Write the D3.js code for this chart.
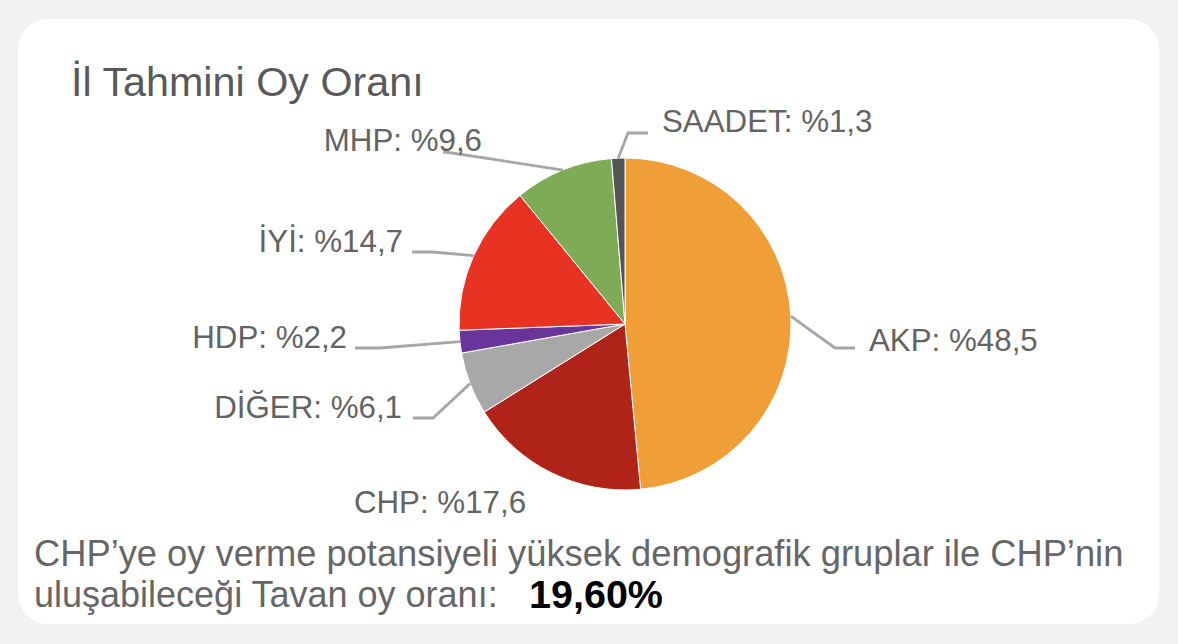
<!DOCTYPE html>
<html>
<head>
<meta charset="utf-8">
<script src="https://cdn.jsdelivr.net/npm/d3@7"></script>
<style>
html,body{margin:0;padding:0;background:#f2f2f2;}
svg{display:block;}
text{font-family:"Liberation Sans",Arial,sans-serif;}
</style>
</head>
<body>
<svg id="chart" width="1178" height="644"></svg>
<script>
// ---- data ----
const parties = ["AKP", "CHP", "DİĞER", "HDP", "İYİ", "MHP", "SAADET"];
const shares  = [48.5, 17.6, 6.1, 2.2, 14.7, 9.6, 1.3];
const labelTexts = ["AKP: %48,5", "CHP: %17,6", "DİĞER: %6,1", "HDP: %2,2", "İYİ: %14,7", "MHP: %9,6", "SAADET: %1,3"];
const titleText = "İl Tahmini Oy Oranı";
const noteLine1 = "CHP’ye oy verme potansiyeli yüksek demografik gruplar ile CHP’nin";
const noteLine2 = "uluşabileceği Tavan oy oranı:";
const noteValue = "19,60%";

// ---- styles / layout ----
const colors = ["#f09e38", "#b02318", "#a8a8a8", "#6a359a", "#e83323", "#7eab55", "#555555"];
const cx = 625, cy = 324, R = 166;
// label layout: text anchor position, and leader line elbow/end (null = no leader)
const labelLayout = [
  {x: 869, y: 351, anchor: "start",  elbow: [835, 348], end: [855, 348]},
  {x: 440, y: 513, anchor: "middle", elbow: null, end: null},
  {x: 402, y: 418, anchor: "end",    elbow: [433, 418], end: [413, 418]},
  {x: 347, y: 348, anchor: "end",    elbow: [380, 348], end: [355, 348]},
  {x: 403, y: 252, anchor: "end",    elbow: [432, 252], end: [412, 252]},
  {x: 482, y: 151, anchor: "end",    elbow: [452, 153], end: [443, 152]},
  {x: 662, y: 132, anchor: "start",  elbow: [628, 133], end: [648, 133]}
];

const svg = d3.select("#chart");

// card
svg.append("rect").attr("x", 18).attr("y", 19).attr("width", 1141).attr("height", 605)
  .attr("rx", 30).attr("ry", 30).attr("fill", "#ffffff");

// title
svg.append("text").attr("x", 71).attr("y", 96).attr("font-size", 41.3)
  .attr("fill", "#595959").text(titleText);

const data = parties.map((p, i) => ({party: p, value: shares[i], i}));
const pie = d3.pie().value(d => d.value).sort(null);
const arcs = pie(data);
const arc = d3.arc().innerRadius(0).outerRadius(R);
const edgeArc = d3.arc().innerRadius(R).outerRadius(R);

const g = svg.append("g").attr("transform", `translate(${cx},${cy})`);
g.selectAll("path.slice").data(arcs).enter().append("path")
  .attr("class", "slice")
  .attr("d", arc)
  .attr("fill", d => colors[d.data.i])
  .attr("stroke", "#ffffff").attr("stroke-width", 1);

// leader lines
const lg = svg.append("g");
arcs.forEach(a => {
  const L = labelLayout[a.data.i];
  if (!L.elbow) return;
  const c = edgeArc.centroid(a);
  const p0 = [cx + c[0], cy + c[1]];
  lg.append("path")
    .attr("d", d3.line()([p0, L.elbow, L.end]))
    .attr("fill", "none").attr("stroke", "#a6a6a6").attr("stroke-width", 2.8);
});

// labels
svg.append("g").selectAll("text").data(arcs).enter().append("text")
  .attr("x", d => labelLayout[d.data.i].x)
  .attr("y", d => labelLayout[d.data.i].y)
  .attr("text-anchor", d => labelLayout[d.data.i].anchor)
  .attr("font-size", 31.3).attr("fill", "#636363")
  .text(d => labelTexts[d.data.i]);

// bottom note
svg.append("text").attr("x", 34).attr("y", 566).attr("font-size", 36.3)
  .attr("fill", "#666666").text(noteLine1);
svg.append("text").attr("x", 34).attr("y", 607).attr("font-size", 36)
  .attr("fill", "#666666").text(noteLine2);
svg.append("text").attr("x", 529).attr("y", 608).attr("font-weight", "bold").attr("font-size", 39.5)
  .attr("fill", "#000000").text(noteValue);
</script>
</body>
</html>
